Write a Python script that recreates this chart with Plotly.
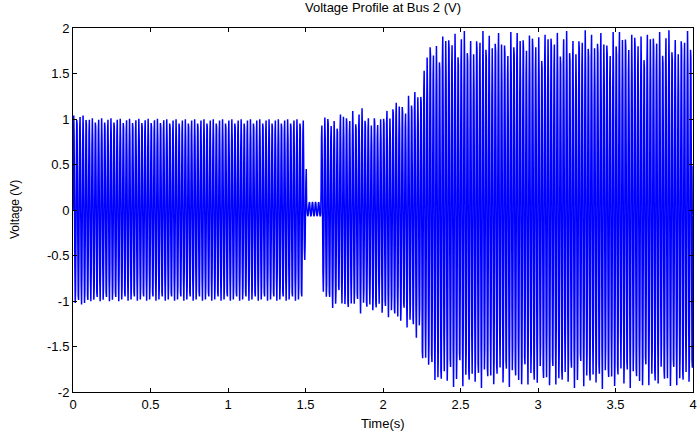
import numpy as np
import plotly.graph_objects as go

# Normalised bus-voltage samples over three 50 Hz cycles (25 samples, 2.4 ms step)
unit_samples = [0.0, 0.6845, 0.9980, 0.7705, 0.1253, -0.5878, -0.9823, -0.8443, -0.2487,
                0.4818, 0.9511, 0.9048, 0.3681, -0.3681, -0.9048, -0.9511, -0.4818,
                0.2487, 0.8443, 0.9823, 0.5878, -0.1253, -0.7705, -0.9980, -0.6845]
cycles_in_block = 3
f0 = 50.0
t_end = 4.0

# Peak envelope of the waveform: segment start times with upper / lower peak (V)
seg_start = [0.00, 0.10, 0.30, 0.60, 0.90, 1.20, 1.49, 1.505,
             1.60, 1.65, 1.70, 1.75, 1.80, 1.85, 1.90, 1.95,
             2.00, 2.05, 2.10, 2.15, 2.20, 2.25, 2.30, 2.35,
             2.50, 2.70, 2.90, 3.10, 3.30, 3.50, 3.70, 3.90]
seg_hi = [1.04, 1.01, 1.005, 1.00, 1.00, 1.00, 0.45, 0.09,
          1.05, 1.02, 1.08, 1.06, 1.10, 1.12, 1.07, 1.00,
          1.12, 1.20, 1.24, 1.27, 1.32, 1.73, 1.88, 1.96,
          1.97, 1.98, 1.98, 1.97, 1.98, 1.99, 1.98, 1.97]
seg_lo = [-1.04, -1.005, -1.00, -1.00, -1.00, -1.00, -0.55, -0.07,
          -0.99, -1.08, -1.04, -1.12, -1.07, -1.14, -1.12, -1.16,
          -1.18, -1.22, -1.24, -1.32, -1.45, -1.73, -1.91, -1.95,
          -1.96, -1.95, -1.96, -1.96, -1.97, -1.96, -1.97, -1.96]

# Cycle-to-cycle spread of peak heights after the disturbance clears
disturbed_from = 1.60
peak_spread_hi = [1.0, 0.94, 0.99, 0.90, 0.97, 1.0, 0.92, 0.96, 0.87, 0.99, 0.95]
peak_spread_lo = [0.96, 1.0, 0.91, 0.98, 0.93, 1.0, 0.97, 0.89, 0.99, 0.94, 1.0, 0.92, 0.98]

x_ticks = [0, 0.5, 1, 1.5, 2, 2.5, 3, 3.5, 4]
x_tick_text = ["0", "0.5", "1", "1.5", "2", "2.5", "3", "3.5", "4"]
y_ticks = [-2, -1.5, -1, -0.5, 0, 0.5, 1, 1.5, 2]
y_tick_text = ["-2", "-1.5", "-1", "-0.5", "0", "0.5", "1", "1.5", "2"]

# Assemble the sampled waveform
n_block = len(unit_samples)
dt = cycles_in_block / (f0 * n_block)
n_samples = int(round(t_end / dt)) + 1
k = np.arange(n_samples)
t = k * dt
shape = np.array(unit_samples)[k % n_block]
cycle = np.floor(t * f0 + 1e-9).astype(int)
seg = np.searchsorted(np.array(seg_start), t, side="right") - 1
hi = np.array(seg_hi)[seg]
lo = np.array(seg_lo)[seg]
sp_hi = np.where(t >= disturbed_from, np.array(peak_spread_hi)[cycle % len(peak_spread_hi)], 1.0)
sp_lo = np.where(t >= disturbed_from, np.array(peak_spread_lo)[cycle % len(peak_spread_lo)], 1.0)
v = np.where(shape >= 0, shape * hi * sp_hi, -shape * lo * sp_lo)

fig = go.Figure()
fig.add_trace(go.Scatter(x=t, y=v, mode="lines",
                         line=dict(color="rgb(0,0,255)", width=1.5, simplify=False),
                         showlegend=False, hoverinfo="skip"))

font = "Liberation Sans, Arial, sans-serif"
axis_common = dict(showline=True, linecolor="black", linewidth=1, mirror="ticks",
                   ticks="inside", ticklen=4, tickcolor="black", tickwidth=1,
                   showgrid=False, zeroline=False, ticklabeloverflow="allow",
                   tickfont=dict(family=font, size=13, color="black"))

fig.update_layout(
    width=700, height=432,
    margin=dict(l=73, r=3, t=28, b=40),
    paper_bgcolor="white", plot_bgcolor="white",
    title=dict(text="Voltage Profile at Bus 2 (V)", x=0.5, xref="paper",
               y=1.0, yref="container", yanchor="top", pad=dict(t=3),
               font=dict(family=font, size=13, color="black")),
    xaxis=dict(range=[0, 4], tickvals=x_ticks, ticktext=x_tick_text, **axis_common),
    yaxis=dict(range=[-2, 2], tickvals=y_ticks, ticktext=y_tick_text, **axis_common),
    annotations=[
        dict(text="Time(s)", xref="paper", yref="paper", x=0.5, y=0,
             yshift=-22, yanchor="top", showarrow=False,
             font=dict(family=font, size=13, color="black")),
        dict(text="Voltage (V)", xref="paper", yref="paper", x=0, y=0.5,
             xshift=-58, xanchor="center", textangle=-90, showarrow=False,
             font=dict(family=font, size=12, color="black")),
    ],
)

fig.write_html("out.html")
